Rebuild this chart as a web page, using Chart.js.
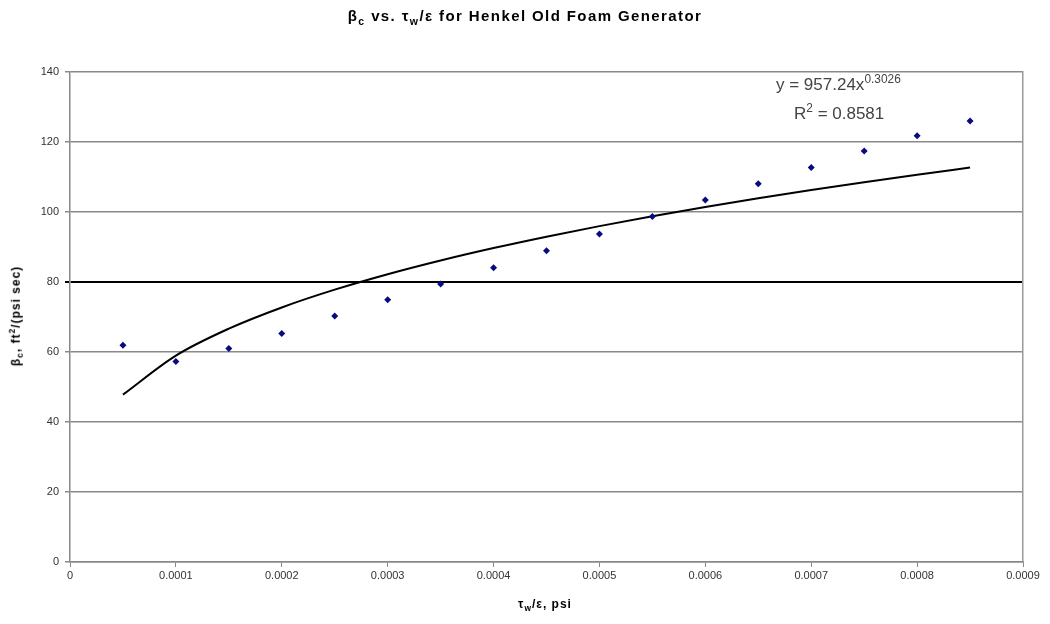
<!DOCTYPE html>
<html>
<head>
<meta charset="utf-8">
<script src="https://cdn.jsdelivr.net/npm/chart.js@4"></script>
<style>
  body { margin: 0; background: #fff; }
  .wrapper { position: relative; width: 1050px; height: 624px; }
  #chart { position: absolute; left: 0; top: 0; }
  .lbl { position: absolute; font-family: "Liberation Sans", Arial, sans-serif; color: #000; white-space: nowrap; }
  .title { left: 0; width: 1050px; top: 7px; text-align: center; font-weight: bold; font-size: 15px; letter-spacing: 1.4px; }
  .xlabel { left: 0; width: 1090px; top: 597px; text-align: center; font-weight: bold; font-size: 12px; letter-spacing: 1px; }
  .ylabel { left: 16px; top: 316px; font-weight: bold; font-size: 12px; letter-spacing: 1px; transform: translate(-50%, -50%) rotate(-90deg); }
  .eq { font-family: "Liberation Sans Narrow", "Liberation Sans", Arial, sans-serif; font-size: 17px; color: #444; }
  sub, sup { font-size: 70%; }
</style>
</head>
<body>
<div class="wrapper">
  <canvas id="chart" width="1050" height="624"></canvas>
  <div class="lbl title">&beta;<sub>c</sub> vs. &tau;<sub>w</sub>/&epsilon; for Henkel Old Foam Generator</div>
  <div class="lbl ylabel">&beta;<sub>c</sub>, ft<sup>2</sup>/(psi sec)</div>
  <div class="lbl xlabel">&tau;<sub>w</sub>/&epsilon;, psi</div>
  <div class="lbl eq" style="left:776px; top:72px;">y = 957.24x<sup>0.3026</sup></div>
  <div class="lbl eq" style="left:794px; top:101px;">R<sup>2</sup> = 0.8581</div>
</div>
<script>
// shear stress / porosity, psi
const tauOverEps = [0.00005, 0.0001, 0.00015, 0.0002, 0.00025, 0.0003, 0.00035, 0.0004, 0.00045,
  0.0005, 0.00055, 0.0006, 0.00065, 0.0007, 0.00075, 0.0008, 0.00085];
// beta_c, ft2/(psi sec)
const betaC = [61.9, 57.3, 61.0, 65.3, 70.3, 74.9, 79.4, 84.1, 88.9,
  93.7, 98.7, 103.4, 108.1, 112.7, 117.4, 121.8, 126.0];

// power trendline from the label on the chart
const fitA = 957.24;
const fitB = 0.3026;

const xTicks = [0, 0.0001, 0.0002, 0.0003, 0.0004, 0.0005, 0.0006, 0.0007, 0.0008, 0.0009];
const yTicks = [0, 20, 40, 60, 80, 100, 120, 140];

let points = tauOverEps.map((x, i) => ({ x: x, y: betaC[i] }));
let trend = tauOverEps.map(x => ({ x: x, y: fitA * Math.pow(x, fitB) }));

const tickFont = { family: "'Liberation Sans Narrow', 'Liberation Sans', Arial", size: 11 };

new Chart(document.getElementById("chart"), {
  type: 'scatter',
  data: {
    datasets: [
      {
        label: 'data',
        data: points,
        pointStyle: 'rectRot',
        pointRadius: 3.5,
        backgroundColor: '#0a0a80',
        borderColor: '#0a0a80',
        borderWidth: 0,
        showLine: false,
        order: 1
      },
      {
        label: 'fit',
        data: trend,
        showLine: true,
        pointRadius: 0,
        borderColor: '#000',
        borderWidth: 2,
        cubicInterpolationMode: 'monotone',
        order: 2
      }
    ]
  },
  options: {
    responsive: false,
    animation: false,
    layout: { padding: { top: 72 } },
    plugins: { legend: { display: false }, tooltip: { enabled: false } },
    scales: {
      x: {
        type: 'linear',
        min: 0,
        max: 0.0009,
        afterBuildTicks: s => { s.ticks = xTicks.map(v => ({ value: v })); },
        afterFit: s => { s.height = 62; },
        ticks: {
          color: '#333',
          font: tickFont,
          padding: 2,
          maxRotation: 0,
          callback: v => v === 0 ? '0' : (Math.round(v * 1e4) / 1e4).toFixed(4)
        },
        grid: { drawOnChartArea: false, drawTicks: true, tickLength: 5, color: '#888' },
        border: { color: '#888', width: 1.5 }
      },
      y: {
        min: 0,
        max: 140,
        afterBuildTicks: s => { s.ticks = yTicks.map(v => ({ value: v })); },
        afterFit: s => { s.width = 70; },
        ticks: { color: '#333', font: tickFont, padding: 6 },
        grid: {
          tickLength: 5,
          color: c => c.tick && c.tick.value === 80 ? '#000' : '#8a8a8a',
          lineWidth: c => c.tick && c.tick.value === 80 ? 2 : 1.5
        },
        border: { color: '#888', width: 1.5 }
      },
      y2: {
        position: 'right',
        min: 0,
        max: 140,
        afterFit: s => { s.width = 27; },
        ticks: { display: false },
        grid: { display: false },
        border: { color: '#999', width: 1.5 }
      }
    }
  }
});
</script>
</body>
</html>
